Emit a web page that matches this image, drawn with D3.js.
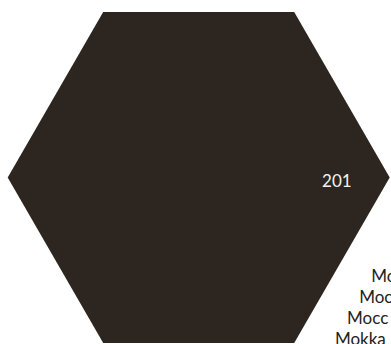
<!DOCTYPE html>
<html>
<head>
<meta charset="utf-8">
<script src="https://cdn.jsdelivr.net/npm/d3@7"></script>
<style>
  html, body { margin: 0; padding: 0; background: #fff; }
  svg { display: block; font-family: Lato, "Open Sans", sans-serif; }
</style>
</head>
<body>
<div id="chart"></div>
<script>
// hex cells (flat-top grid, odd columns shifted down)
const cellCols   = [0, 0, 1];
const cellRows   = [-1, 0, 0];
const cellValues = [12, 201, 0];
const cellLabels = ["", "201", ""];
const sideWords  = ["Mocha", "Mochaccino", "Mocc", "Mokka"];

const width = 391, height = 344;
const hexR = 191,          // drawn radius
      cellR = 198;         // grid radius (gap between cells)

const svg = d3.select("#chart")
              .append("svg")
              .attr("width", width)
              .attr("height", height);

const x = d3.scaleLinear().domain([0, 1]).range([198.7, 198.7 + 1.5 * cellR]);
const y = d3.scaleLinear().domain([0, 1]).range([177.5, 177.5 + Math.sqrt(3) * cellR]);

const color = d3.scaleLinear()
                .domain([0, d3.max(cellValues)])
                .range(["#ffffff", "#2d2620"]);

const cells = cellCols.map((c, i) => ({
  cx: x(c),
  cy: y(cellRows[i] + (c % 2 ? 0.5 : 0)),
  value: cellValues[i],
  label: cellLabels[i]
}));

const hexPath = r => {
  const pts = d3.range(6).map(k => [r * Math.cos(k * Math.PI / 3), r * Math.sin(k * Math.PI / 3)]);
  return "M" + pts.join("L") + "Z";
};

const g = svg.selectAll(".cell")
             .data(cells)
             .enter()
             .append("g")
             .attr("class", "cell")
             .attr("transform", d => `translate(${d.cx},${d.cy})`);

g.append("path")
 .attr("d", hexPath(hexR))
 .attr("fill", d => color(d.value));

g.append("text")
 .attr("x", hexR - 38)
 .attr("y", 9.5)
 .attr("text-anchor", "end")
 .attr("fill", "#f2f2f2")
 .style("font-size", "17px")
 .text(d => d.label);

// words wrapped along the upper-left edge of the side cell
const side = cells[2];
const lineH = 21, firstBase = side.cy - 67, inset = 21, capH = 12;
sideWords.forEach((w, i) => {
  const base = firstBase + i * lineH;
  const edgeX = side.cx - hexR + (side.cy - (base - capH)) / Math.sqrt(3);
  svg.append("text")
     .attr("x", edgeX + inset)
     .attr("y", base)
     .attr("fill", "#222")
     .style("font-size", "17px")
     .text(w);
});
</script>
</body>
</html>
